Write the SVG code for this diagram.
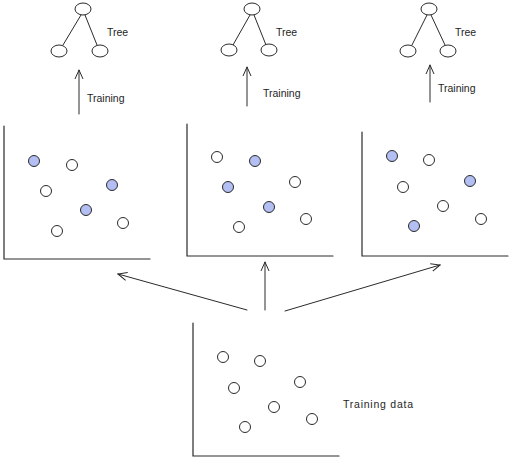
<svg xmlns="http://www.w3.org/2000/svg" width="512" height="461" viewBox="0 0 512 461">
<defs>
<style>
.ln{stroke:#2a2a2a;stroke-width:1;fill:none;stroke-linecap:round}
.ax{stroke:#2a2a2a;stroke-width:1.2;fill:none;stroke-linecap:round}
.o{fill:#fff;stroke:#2a2a2a;stroke-width:1}
.f{fill:#b3bff3;stroke:#2a2a2a;stroke-width:1}
.tn{fill:#fff;stroke:#2a2a2a;stroke-width:1}
text{font-family:"Liberation Sans",Arial,sans-serif;font-size:10.5px;fill:#1e1e1e}
</style>
<marker id="ah" viewBox="0 0 10 10" refX="9" refY="5" markerWidth="10" markerHeight="10" markerUnits="userSpaceOnUse" orient="auto">
<path d="M0,1 L9,5 L0,9" fill="none" stroke="#2a2a2a" stroke-width="1"/>
</marker>
</defs>
<rect width="512" height="461" fill="#fff"/>

<g id="tree1">
<line class="ln" x1="81" y1="15" x2="63" y2="45"/>
<line class="ln" x1="85" y1="15" x2="97" y2="45"/>
<ellipse class="tn" cx="83" cy="9" rx="8" ry="6"/>
<ellipse class="tn" cx="59" cy="51" rx="8" ry="6"/>
<ellipse class="tn" cx="100" cy="51" rx="8" ry="6"/>
<text x="107" y="36">Tree</text>
</g>
<g id="tree2">
<line class="ln" x1="250" y1="15" x2="233" y2="45"/>
<line class="ln" x1="254" y1="15" x2="266" y2="45"/>
<ellipse class="tn" cx="252" cy="9" rx="8" ry="6"/>
<ellipse class="tn" cx="229" cy="50" rx="8" ry="6"/>
<ellipse class="tn" cx="269" cy="50" rx="8" ry="6"/>
<text x="276" y="36">Tree</text>
</g>
<g id="tree3">
<line class="ln" x1="427" y1="15" x2="412" y2="45"/>
<line class="ln" x1="431" y1="15" x2="445" y2="45"/>
<ellipse class="tn" cx="429" cy="9" rx="8" ry="6"/>
<ellipse class="tn" cx="408" cy="51" rx="8" ry="6"/>
<ellipse class="tn" cx="448" cy="51" rx="8" ry="6"/>
<text x="455" y="36">Tree</text>
</g>

<g id="panel1">
<polyline class="ax" points="4,126 4,259 150,259"/>
<circle class="f" cx="34" cy="161" r="5.5"/>
<circle class="o" cx="72" cy="165" r="5.5"/>
<circle class="o" cx="46" cy="191" r="5.5"/>
<circle class="f" cx="112" cy="185" r="5.5"/>
<circle class="f" cx="86" cy="210" r="5.5"/>
<circle class="o" cx="57" cy="231" r="5.5"/>
<circle class="o" cx="123" cy="223" r="5.5"/>
</g>
<g id="panel2">
<polyline class="ax" points="187,124 187,256 333,256"/>
<circle class="o" cx="217" cy="157" r="5.5"/>
<circle class="f" cx="255" cy="161" r="5.5"/>
<circle class="f" cx="228" cy="187" r="5.5"/>
<circle class="o" cx="295" cy="182" r="5.5"/>
<circle class="f" cx="269" cy="207" r="5.5"/>
<circle class="o" cx="306" cy="219" r="5.5"/>
<circle class="o" cx="239" cy="227" r="5.5"/>
</g>
<g id="panel3">
<polyline class="ax" points="362,132 362,256 508,256"/>
<circle class="f" cx="392" cy="156" r="5.5"/>
<circle class="o" cx="429" cy="160" r="5.5"/>
<circle class="o" cx="403" cy="187" r="5.5"/>
<circle class="f" cx="470" cy="181" r="5.5"/>
<circle class="o" cx="443" cy="206" r="5.5"/>
<circle class="o" cx="481" cy="219" r="5.5"/>
<circle class="f" cx="414" cy="226" r="5.5"/>
</g>
<g id="training-data">
<polyline class="ax" points="193,323 193,456 339,456"/>
<circle class="o" cx="223" cy="357" r="5.5"/>
<circle class="o" cx="260" cy="361" r="5.5"/>
<circle class="o" cx="234" cy="388" r="5.5"/>
<circle class="o" cx="300" cy="382" r="5.5"/>
<circle class="o" cx="274" cy="407" r="5.5"/>
<circle class="o" cx="312" cy="419" r="5.5"/>
<circle class="o" cx="245" cy="427" r="5.5"/>
<text x="343" y="408" textLength="70" lengthAdjust="spacing">Training data</text>
</g>

<g id="connectors">
<line class="ln" x1="79" y1="114" x2="79" y2="70" marker-end="url(#ah)"/>
<text x="87" y="102">Training</text>
<line class="ln" x1="247" y1="106" x2="247" y2="67" marker-end="url(#ah)"/>
<text x="263" y="97">Training</text>
<line class="ln" x1="430" y1="102" x2="430" y2="65" marker-end="url(#ah)"/>
<text x="438" y="92">Training</text>
<line class="ln" x1="247" y1="310" x2="118" y2="274" marker-end="url(#ah)"/>
<line class="ln" x1="265" y1="310" x2="265" y2="262" marker-end="url(#ah)"/>
<line class="ln" x1="285" y1="311" x2="440" y2="265" marker-end="url(#ah)"/>
</g>
</svg>
